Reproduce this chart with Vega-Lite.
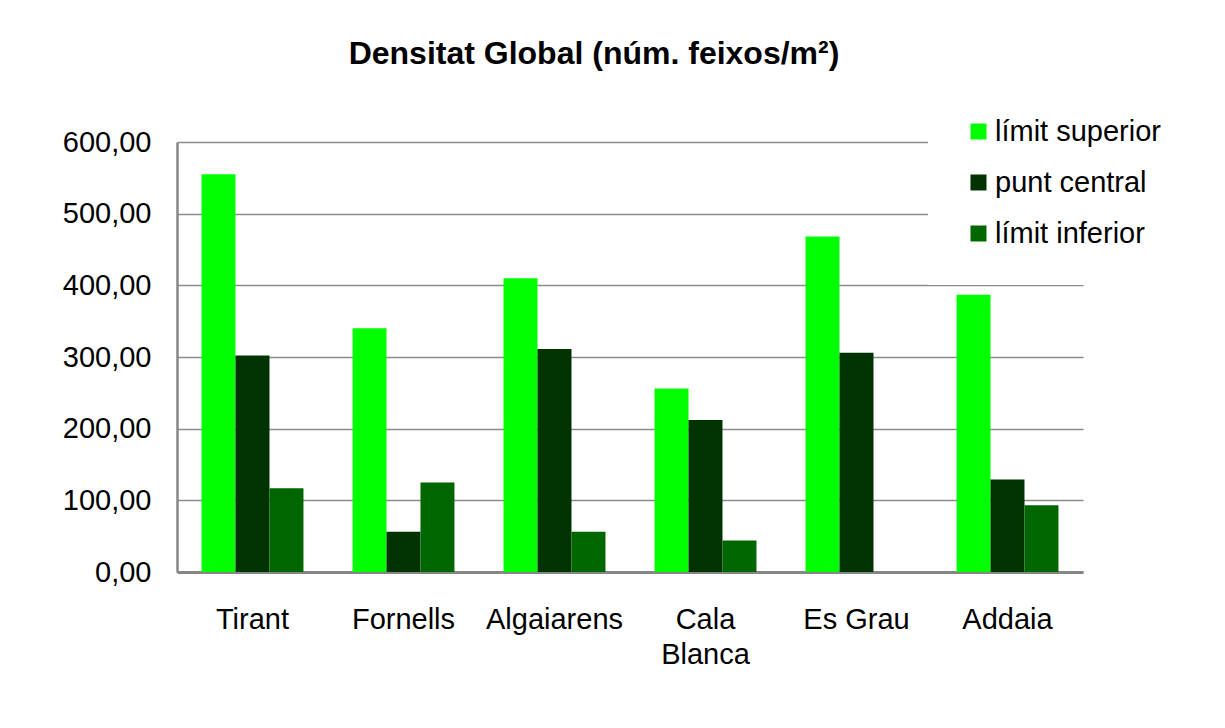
{
  "$schema": "https://vega.github.io/schema/vega-lite/v6.json",
  "width": 906,
  "height": 430,
  "autosize": {"type": "none"},
  "padding": {"left": 177, "top": 142, "right": 142, "bottom": 156},
  "background": "white",
  "title": {
    "text": "Densitat Global (núm. feixos/m²)",
    "font": "Liberation Sans",
    "fontSize": 32,
    "fontWeight": "bold",
    "color": "black",
    "anchor": "middle",
    "frame": "group",
    "dx": -36,
    "offset": 10
  },
  "data": {
    "values": [
      {"site": "Tirant", "series": "límit superior", "value": 555},
      {"site": "Tirant", "series": "punt central", "value": 302},
      {"site": "Tirant", "series": "límit inferior", "value": 117},
      {"site": "Fornells", "series": "límit superior", "value": 340},
      {"site": "Fornells", "series": "punt central", "value": 56},
      {"site": "Fornells", "series": "límit inferior", "value": 125},
      {"site": "Algaiarens", "series": "límit superior", "value": 410},
      {"site": "Algaiarens", "series": "punt central", "value": 311},
      {"site": "Algaiarens", "series": "límit inferior", "value": 56},
      {"site": "Cala Blanca", "series": "límit superior", "value": 256},
      {"site": "Cala Blanca", "series": "punt central", "value": 212},
      {"site": "Cala Blanca", "series": "límit inferior", "value": 44},
      {"site": "Es Grau", "series": "límit superior", "value": 468},
      {"site": "Es Grau", "series": "punt central", "value": 306},
      {"site": "Es Grau", "series": "límit inferior", "value": 0},
      {"site": "Addaia", "series": "límit superior", "value": 387},
      {"site": "Addaia", "series": "punt central", "value": 129},
      {"site": "Addaia", "series": "límit inferior", "value": 93}
    ]
  },
  "mark": {"type": "bar"},
  "encoding": {
    "x": {
      "field": "site",
      "type": "nominal",
      "sort": ["Tirant", "Fornells", "Algaiarens", "Cala Blanca", "Es Grau", "Addaia"],
      "scale": {"paddingInner": 0.325, "paddingOuter": 0.1625},
      "axis": {
        "title": null,
        "labelAngle": 0,
        "labelFont": "Liberation Sans",
        "labelFontSize": 29,
        "labelColor": "black",
        "labelPadding": 33,
        "labelLineHeight": 35,
        "labelExpr": "datum.label == 'Cala Blanca' ? ['Cala', 'Blanca'] : datum.label",
        "ticks": false,
        "domainColor": "#868686",
        "domainWidth": 3,
        "grid": false
      }
    },
    "xOffset": {
      "field": "series",
      "type": "nominal",
      "sort": ["límit superior", "punt central", "límit inferior"]
    },
    "y": {
      "field": "value",
      "type": "quantitative",
      "scale": {"domain": [0, 600], "nice": false},
      "axis": {
        "title": null,
        "values": [0, 100, 200, 300, 400, 500, 600],
        "labelExpr": "replace(format(datum.value, '.2f'), '.', ',')",
        "labelFont": "Liberation Sans",
        "labelFontSize": 29,
        "labelColor": "black",
        "labelPadding": 26,
        "ticks": false,
        "domainColor": "#868686",
        "domainWidth": 2.5,
        "gridColor": "#8c8c8c",
        "gridWidth": 1.5,
        "gridOpacity": 1
      }
    },
    "color": {
      "field": "series",
      "type": "nominal",
      "sort": ["límit superior", "punt central", "límit inferior"],
      "scale": {
        "domain": ["límit superior", "punt central", "límit inferior"],
        "range": ["#00ff00", "#003300", "#006600"]
      },
      "legend": {
        "title": null,
        "orient": "none",
        "legendX": 751,
        "legendY": -61,
        "padding": 36,
        "fillColor": "white",
        "symbolType": "square",
        "symbolSize": 256,
        "symbolStrokeWidth": 0,
        "symbolOpacity": 1,
        "labelFont": "Liberation Sans",
        "labelFontSize": 29,
        "labelColor": "black",
        "labelOffset": 2,
        "rowPadding": 21,
        "labelLimit": 400
      }
    }
  },
  "config": {
    "view": {"stroke": null}
  }
}
